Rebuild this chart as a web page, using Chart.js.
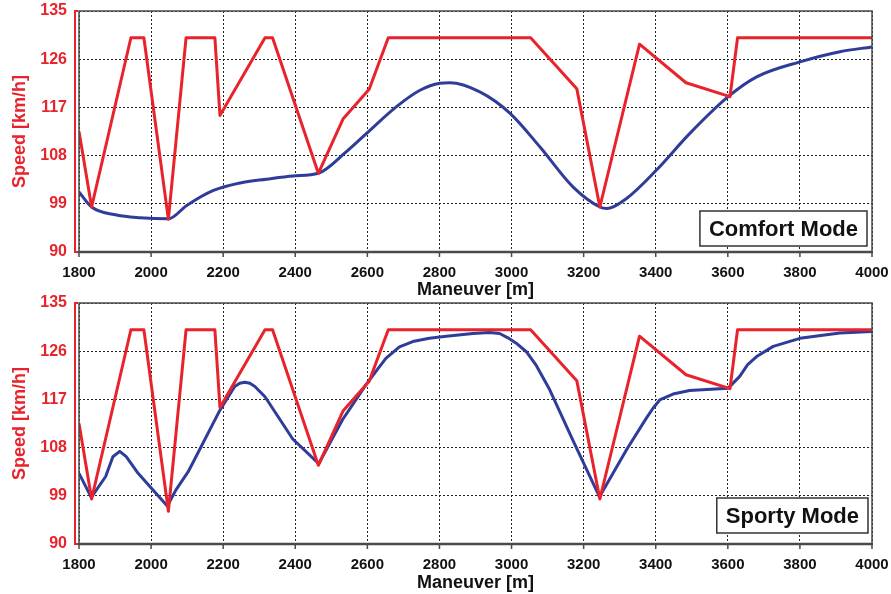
<!DOCTYPE html>
<html>
<head>
<meta charset="utf-8">
<script src="https://cdn.jsdelivr.net/npm/chart.js@4.4.1/dist/chart.umd.min.js"></script>
<style>
  html, body { margin: 0; padding: 0; background: #fff; }
  #wrap { position: relative; width: 891px; height: 594px; overflow: hidden; }
  .panel { position: absolute; left: 0; width: 891px; }
  #top { top: 0; height: 301px; }
  #bottom { top: 292px; height: 302px; }
</style>
</head>
<body>
<div id="wrap">
  <div class="panel" id="top"><canvas id="comfortChart"></canvas></div>
  <div class="panel" id="bottom"><canvas id="sportyChart"></canvas></div>
</div>
<script>
// speed limit profile (same road for both modes)
const limitDist  = [1800, 1835, 1944, 1980, 2048, 2097, 2177, 2191, 2316, 2337, 2464, 2533, 2605, 2658, 3053, 3181, 3245, 3355, 3484, 3606, 3627, 4000];
const limitSpeed = [112.5, 98.4, 130, 130, 96.1, 130, 130, 115.5, 130, 130, 104.7, 114.9, 120.4, 130, 130, 120.5, 98.4, 128.8, 121.6, 119.0, 130, 130];

// vehicle speed, comfort mode (smooth curve)
const comfortDist  = [1800, 1835, 1904, 1969, 2048, 2099, 2173, 2247, 2320, 2394, 2464, 2541, 2597, 2680, 2746, 2801, 2829, 2912, 2996, 3079, 3171, 3245, 3264, 3319, 3402, 3494, 3601, 3680, 3800, 3911, 4000];
const comfortSpeed = [101.2, 98.4, 96.9, 96.4, 96.2, 98.7, 101.5, 102.9, 103.6, 104.2, 104.7, 108.7, 112.1, 117.1, 120.2, 121.5, 121.6, 119.9, 115.9, 109.6, 102.1, 98.4, 98.1, 100.0, 105.3, 112.1, 119.0, 122.7, 125.5, 127.4, 128.3];

// vehicle speed, sporty mode (segments, corners at the limit dips)
const sportyDist  = [1800, 1834, 1874, 1894, 1913, 1931, 1964, 2001, 2045, 2069, 2103, 2191, 2232, 2246, 2260, 2274, 2288, 2316, 2393, 2465, 2531, 2596, 2630, 2652, 2689, 2726, 2772, 2819, 2893, 2939, 2967, 2990, 3013, 3041, 3069, 3106, 3170, 3244, 3319, 3374, 3393, 3411, 3448, 3494, 3601, 3633, 3655, 3680, 3726, 3800, 3911, 4000];
const sportySpeed = [103.2, 98.7, 102.6, 106.3, 107.3, 106.3, 103.2, 100.4, 97.1, 100.1, 103.5, 115.0, 119.4, 120.0, 120.2, 120.0, 119.4, 117.5, 109.6, 105.0, 113.2, 119.7, 122.8, 124.7, 126.8, 127.8, 128.4, 128.8, 129.3, 129.5, 129.3, 128.5, 127.5, 125.9, 123.3, 118.8, 109.4, 98.8, 107.6, 113.5, 115.4, 116.9, 118.0, 118.65, 119.1, 121.3, 123.5, 125.0, 126.9, 128.4, 129.4, 129.7];

const distTicks  = [1800, 2000, 2200, 2400, 2600, 2800, 3000, 3200, 3400, 3600, 3800, 4000];
const speedTicks = [90, 99, 108, 117, 126, 135];

const RED = '#e8232b';
const BLUE = '#2e3d99';
const FRAME = '#4a4a4a';
const FONT = "'Liberation Sans', Arial, sans-serif";

const toPoints = (xs, ys) => xs.map((x, i) => ({ x, y: ys[i] }));

// frame, red y-axis bracket, x tick marks and the mode label box
const framePlugin = {
  id: 'frame',
  afterDraw(chart, args, opts) {
    const { ctx, chartArea: a, scales } = chart;
    ctx.save();
    ctx.setLineDash([]);
    ctx.strokeStyle = FRAME;
    ctx.lineWidth = 1.5;
    ctx.strokeRect(a.left, a.top, a.right - a.left, a.bottom - a.top);
    ctx.lineWidth = 2.5;
    ctx.beginPath();
    ctx.moveTo(a.left - 1, a.bottom);
    ctx.lineTo(a.right + 1, a.bottom);
    ctx.stroke();
    ctx.lineWidth = 1.5;
    distTicks.forEach(v => {
      const x = scales.x.getPixelForValue(v);
      ctx.beginPath();
      ctx.moveTo(x, a.bottom);
      ctx.lineTo(x, a.bottom + 5);
      ctx.stroke();
    });

    // red bracket along the speed axis
    ctx.strokeStyle = RED;
    ctx.lineWidth = 2;
    const bx = a.left - 4;
    ctx.beginPath();
    ctx.moveTo(a.left - 1, a.top);
    ctx.lineTo(bx, a.top);
    ctx.lineTo(bx, a.bottom);
    ctx.lineTo(a.left - 1, a.bottom);
    ctx.stroke();

    // mode label
    ctx.font = 'bold 22px ' + FONT;
    const w = ctx.measureText(opts.label).width + 18;
    const h = 35;
    const x0 = a.right - opts.inset - w;
    const y0 = a.bottom - opts.lift - h;
    ctx.fillStyle = '#fff';
    ctx.fillRect(x0, y0, w, h);
    ctx.strokeStyle = '#333';
    ctx.lineWidth = 1.5;
    ctx.strokeRect(x0, y0, w, h);
    ctx.fillStyle = '#111';
    ctx.textAlign = 'center';
    ctx.textBaseline = 'middle';
    ctx.fillText(opts.label, x0 + w / 2, y0 + h / 2 + 1);
    ctx.restore();
  }
};

function makeChart(id, speedDist, speedVals, label, boxPos, height, smooth) {
  return new Chart(document.getElementById(id), {
    type: 'line',
    data: {
      datasets: [{
        label: 'Speed limit',
        data: toPoints(limitDist, limitSpeed),
        borderColor: RED,
        borderWidth: 3,
        borderJoinStyle: 'round',
        pointRadius: 0,
        tension: 0
      }, {
        label: 'Vehicle speed',
        data: toPoints(speedDist, speedVals),
        borderColor: BLUE,
        borderWidth: 3,
        borderJoinStyle: 'round',
        pointRadius: 0,
        tension: 0,
        cubicInterpolationMode: smooth ? 'monotone' : 'default'
      }]
    },
    options: {
      responsive: true,
      maintainAspectRatio: false,
      animation: false,
      layout: { padding: { top: 11, right: 19, left: 0, bottom: 0 } },
      plugins: {
        legend: { display: false },
        tooltip: { enabled: false },
        frame: { label, inset: boxPos.inset, lift: boxPos.lift }
      },
      scales: {
        x: {
          type: 'linear',
          min: 1800,
          max: 4000,
          afterFit: s => { s.height = height - 252; },
          afterBuildTicks: s => { s.ticks = distTicks.map(v => ({ value: v })); },
          // invisible tick marks keep the label gap without extra layout padding
          grid: { color: '#222', lineWidth: 1, drawTicks: true, tickLength: 12, tickColor: 'rgba(0,0,0,0)' },
          border: { display: false, dash: [2, 2] },
          ticks: {
            color: '#111', padding: 0, maxRotation: 0,
            callback: v => String(v),
            font: { family: FONT, size: 15, weight: 'bold' }
          },
          title: {
            display: true,
            text: 'Maneuver [m]',
            color: '#111',
            padding: { top: 0, bottom: 0 },
            font: { family: FONT, size: 18, weight: 'bold' }
          }
        },
        y: {
          min: 90,
          max: 135,
          afterFit: s => { s.width = 79; },
          afterBuildTicks: s => { s.ticks = speedTicks.map(v => ({ value: v })); },
          grid: { color: '#222', lineWidth: 1, drawTicks: true, tickLength: 12, tickColor: 'rgba(0,0,0,0)' },
          border: { display: false, dash: [2, 2] },
          ticks: {
            color: RED, padding: 0,
            callback: v => String(v),
            font: { family: FONT, size: 16, weight: 'bold' }
          },
          title: {
            display: true,
            text: 'Speed [km/h]',
            color: RED,
            padding: { top: 9, bottom: 0 },
            font: { family: FONT, size: 18, weight: 'bold' }
          }
        }
      }
    },
    plugins: [framePlugin]
  });
}

makeChart('comfortChart', comfortDist, comfortSpeed, 'Comfort Mode', { inset: 5, lift: 6 }, 301, true);
makeChart('sportyChart', sportyDist, sportySpeed, 'Sporty Mode', { inset: 4, lift: 11 }, 302, false);
</script>
</body>
</html>
